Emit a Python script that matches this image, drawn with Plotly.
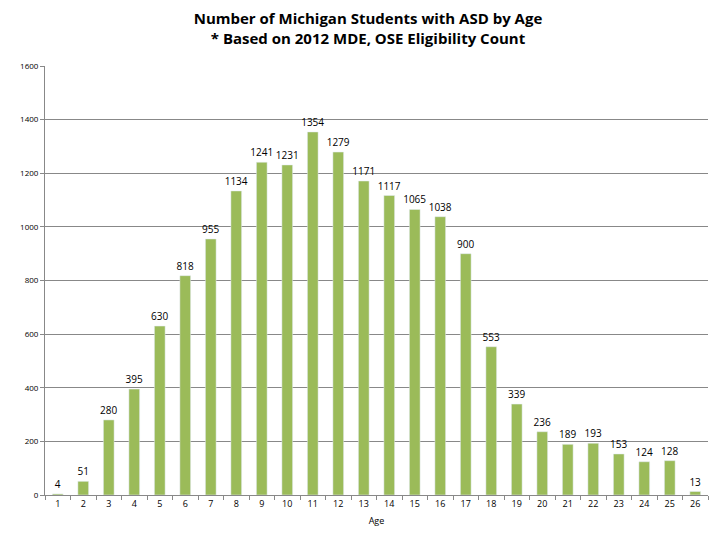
import plotly.graph_objects as go

# ages and student counts (2012 MDE, OSE eligibility count)
ages = [str(a) for a in range(1, 27)]
students = [4, 51, 280, 395, 630, 818, 955, 1134, 1241, 1231, 1354, 1279, 1171,
            1117, 1065, 1038, 900, 553, 339, 236, 189, 193, 153, 124, 128, 13]
y_ticks = [0, 200, 400, 600, 800, 1000, 1200, 1400, 1600]

fig = go.Figure()
fig.add_trace(go.Bar(
    x=ages, y=students,
    marker_color='#9BBB59',
    text=students, textposition='outside',
    textfont=dict(size=10, color='black'),
    textangle=0, constraintext='none',
    cliponaxis=False,
    width=0.42,
))

fig.update_layout(
    width=720, height=540,
    paper_bgcolor='white', plot_bgcolor='white',
    font=dict(family='Open Sans, Liberation Sans, sans-serif', color='black'),
    title=dict(
        text='<b>Number of Michigan Students with ASD by Age<br>* Based on 2012 MDE, OSE Eligibility Count</b>',
        x=0.5, xanchor='center', yref='container', y=0.97, yanchor='middle',
        font=dict(size=15),
    ),
    margin=dict(l=28, r=20, t=58, b=53),
    showlegend=False,
    uniformtext=dict(minsize=10, mode='show'),
)
fig.update_xaxes(
    type='category', showline=True, linecolor='#888888', linewidth=1,
    ticks='outside', tickson='boundaries', ticklen=4, tickcolor='#888888',
    tickfont=dict(size=9), showgrid=False,
    title=dict(text='Age', font=dict(size=9), standoff=8),
)
fig.update_yaxes(
    range=[0, 1600], tickvals=y_ticks, showgrid=True, gridcolor='#888888',
    gridwidth=1, showline=True, linecolor='#888888', ticks='outside',
    ticklen=4, tickcolor='#888888', tickfont=dict(size=8), zeroline=False,
)

fig.write_html('out.html')
